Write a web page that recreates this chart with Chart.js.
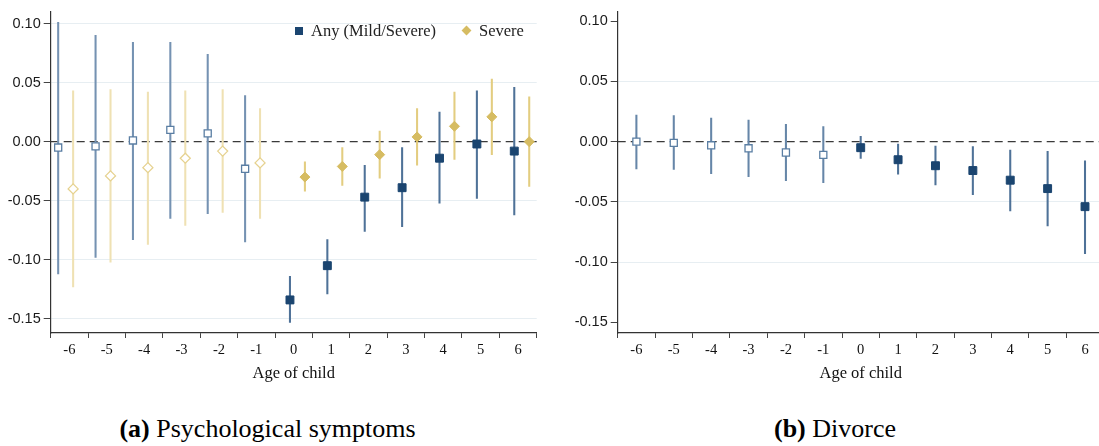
<!DOCTYPE html>
<html>
<head>
<meta charset="utf-8">
<script src="https://cdn.jsdelivr.net/npm/chart.js@4.4.1/dist/chart.umd.min.js"></script>
<style>
  html, body { margin: 0; padding: 0; background: #fff; overflow: hidden; width: 1099px; height: 446px; }
  .wrap { position: absolute; top: 0; }
  #wrapA { left: 0; width: 545px; height: 395px; }
  #wrapB { left: 560px; width: 560px; height: 395px; }
  .caption { position: absolute; top: 414px; font-family: "Liberation Serif", "Times New Roman", serif; font-size: 26px; color: #000; white-space: nowrap; transform: translateX(-50%); }
  .legend { position: absolute; top: 21px; left: 293px; font-family: "Liberation Serif", "Times New Roman", serif; font-size: 16.5px; color: #222; white-space: nowrap; height: 20px; line-height: 20px; }
  .legend .sq { position: absolute; left: 2px; top: 6px; width: 8px; height: 8px; background: #1b4570; }
  .legend .dm { position: absolute; left: 170px; top: 6px; width: 7px; height: 7px; background: #d6bc62; transform: rotate(45deg); }
  .legend .t1 { position: absolute; left: 18px; top: 0; }
  .legend .t2 { position: absolute; left: 186px; top: 0; }
</style>
</head>
<body>
<div class="wrap" id="wrapA"><canvas id="chartA" width="545" height="395"></canvas></div>
<div class="wrap" id="wrapB"><canvas id="chartB" width="560" height="395"></canvas></div>
<div class="legend"><span class="sq"></span><span class="t1">Any (Mild/Severe)</span><span class="dm"></span><span class="t2">Severe</span></div>
<div class="caption" style="left:267.5px"><b>(a)</b> Psychological symptoms</div>
<div class="caption" style="left:835px"><b>(b)</b> Divorce</div>
<script>
// Event time: age of child in years
const ages = [-6, -5, -4, -3, -2, -1, 0, 1, 2, 3, 4, 5, 6];
const xTicks = [-6, -5, -4, -3, -2, -1, 0, 1, 2, 3, 4, 5, 6];
const yTicks = [-0.15, -0.10, -0.05, 0.00, 0.05, 0.10];

// Psychological symptoms: any (mild/severe) diagnosis
const psychAny   = [-0.005, -0.004, 0.001, 0.010, 0.007, -0.023, -0.134, -0.105, -0.047, -0.039, -0.014, -0.002, -0.008];
const psychAnyLo = [-0.112, -0.098, -0.083, -0.065, -0.061, -0.085, -0.153, -0.129, -0.076, -0.072, -0.052, -0.048, -0.062];
const psychAnyHi = [0.101, 0.090, 0.084, 0.084, 0.074, 0.039, -0.114, -0.083, -0.020, -0.005, 0.025, 0.043, 0.046];

// Psychological symptoms: severe diagnosis
const psychSev   = [-0.040, -0.029, -0.022, -0.014, -0.008, -0.018, -0.030, -0.021, -0.011, 0.004, 0.013, 0.021, 0.000];
const psychSevLo = [-0.123, -0.102, -0.087, -0.071, -0.060, -0.065, -0.042, -0.037, -0.031, -0.020, -0.015, -0.011, -0.038];
const psychSevHi = [0.043, 0.044, 0.042, 0.043, 0.044, 0.028, -0.017, -0.005, 0.009, 0.028, 0.042, 0.053, 0.038];

// Divorce
const divorce   = [0.000, -0.001, -0.003, -0.0055, -0.009, -0.011, -0.005, -0.015, -0.020, -0.024, -0.032, -0.039, -0.054];
const divorceLo = [-0.0226, -0.023, -0.0265, -0.029, -0.0325, -0.034, -0.014, -0.027, -0.036, -0.044, -0.0575, -0.070, -0.093];
const divorceHi = [0.022, 0.0217, 0.0195, 0.018, 0.0145, 0.0126, 0.0044, -0.002, -0.0036, -0.004, -0.007, -0.008, -0.016];

const NAVY = '#1b4570';
const GOLD = '#d6bc62';

// Split a series into pre-birth (hollow) and post-birth (filled) parts, shifted sideways
function points(vals, pre, shiftPre, shiftPost) {
  return ages.map((a, i) => ({ x: a + (a < 0 ? shiftPre : shiftPost), y: vals[i] }))
             .filter((p, i) => (ages[i] < 0) === pre);
}
function intervals(lo, hi, pre, shiftPre, shiftPost) {
  return ages.map((a, i) => ({ x: a + (a < 0 ? shiftPre : shiftPost), y: [lo[i], hi[i]] }))
             .filter((p, i) => (ages[i] < 0) === pre);
}

function ciSet(data, color) {
  return { type: 'bar', data, backgroundColor: color, borderWidth: 0, barThickness: 1.4, grouped: false, order: 2 };
}
function markSet(data, style, radius, fill, stroke, bw) {
  return { type: 'scatter', data, pointStyle: style, pointRadius: radius, pointBackgroundColor: fill,
           pointBorderColor: stroke, pointBorderWidth: bw, showLine: false, order: 0 };
}

// Dashed reference line at zero, drawn under the marks
const zeroLine = {
  id: 'zeroLine',
  beforeDatasetsDraw(chart) {
    const { ctx, chartArea } = chart;
    const y = chart.scales.y.getPixelForValue(0);
    ctx.save();
    ctx.strokeStyle = '#3a3a3a';
    ctx.lineWidth = 1.4;
    ctx.setLineDash([8, 5]);
    ctx.beginPath();
    ctx.moveTo(chartArea.left, y);
    ctx.lineTo(chartArea.right, y);
    ctx.stroke();
    ctx.restore();
  }
};

function makeOptions(yAxisWidth, padRight, yMin, yMax, gridVals) {
  return {
    responsive: false,
    animation: false,
    devicePixelRatio: 1,
    layout: { padding: { left: 0, right: padRight, top: 9, bottom: 0 } },
    plugins: { legend: { display: false }, tooltip: { enabled: false } },
    scales: {
      x: {
        type: 'linear', min: -6.5, max: 6.5, offset: false,
        afterBuildTicks: s => { s.ticks = xTicks.map(v => ({ value: v })); },
        afterFit: s => { s.height = 62; },
        grid: { drawOnChartArea: false, tickLength: 5, tickColor: '#444', tickWidth: 1 },
        border: { display: true, color: '#333', width: 1.2 },
        ticks: { color: '#111', padding: 3, maxRotation: 0, autoSkip: false,
                 font: { family: '"Liberation Serif", serif', size: 14.5 }, callback: v => String(v) },
        title: { display: true, text: 'Age of child', color: '#111',
                 font: { family: '"Liberation Serif", serif', size: 16.5 }, padding: { top: 0, bottom: 11 } }
      },
      y: {
        min: yMin, max: yMax,
        afterBuildTicks: s => { s.ticks = yTicks.map(v => ({ value: v })); },
        afterFit: s => { s.width = yAxisWidth; },
        grid: {
          color: c => gridVals.some(g => Math.abs(g - c.tick.value) < 1e-9) ? '#e7eef2' : 'rgba(0,0,0,0)',
          lineWidth: 1, tickLength: 7, tickColor: '#444', tickWidth: 1
        },
        border: { display: true, color: '#333', width: 1.2 },
        ticks: { color: '#1a1a1a', padding: 3,
                 font: { family: '"Liberation Sans", sans-serif', size: 14.5 }, callback: v => v.toFixed(2) }
      }
    }
  };
}

new Chart(document.getElementById('chartA'), {
  type: 'bar',
  data: {
    datasets: [
      ciSet(intervals(psychAnyLo, psychAnyHi, true, -0.3, -0.1), '#7592b2'),
      ciSet(intervals(psychAnyLo, psychAnyHi, false, -0.3, -0.1), '#4f7298'),
      ciSet(intervals(psychSevLo, psychSevHi, true, 0.1, 0.3), '#efe1b3'),
      ciSet(intervals(psychSevLo, psychSevHi, false, 0.1, 0.3), '#e3cd80'),
      markSet(points(psychAny, true, -0.3, -0.1), 'rect', 5, '#ffffff', '#5a7ea3', 1.3),
      markSet(points(psychAny, false, -0.3, -0.1), 'rect', 5.6, NAVY, NAVY, 1),
      markSet(points(psychSev, true, 0.1, 0.3), 'rectRot', 5, '#ffffff', '#e6d290', 1.3),
      markSet(points(psychSev, false, 0.1, 0.3), 'rectRot', 5, GOLD, GOLD, 1)
    ]
  },
  options: makeOptions(50.7, 8.3, -0.162, 0.11, [-0.15, -0.10, -0.05, 0.05, 0.10]),
  plugins: [zeroLine]
});

new Chart(document.getElementById('chartB'), {
  type: 'bar',
  data: {
    datasets: [
      ciSet(intervals(divorceLo, divorceHi, true, 0, 0), '#6686a8'),
      ciSet(intervals(divorceLo, divorceHi, false, 0, 0), '#4f7298'),
      markSet(points(divorce, true, 0, 0), 'rect', 5, '#ffffff', '#5a7ea3', 1.3),
      markSet(points(divorce, false, 0, 0), 'rect', 5.6, NAVY, NAVY, 1)
    ]
  },
  options: makeOptions(57.7, 16.3, -0.159, 0.108, [-0.10, -0.05, 0.05]),
  plugins: [zeroLine]
});
</script>
</body>
</html>
